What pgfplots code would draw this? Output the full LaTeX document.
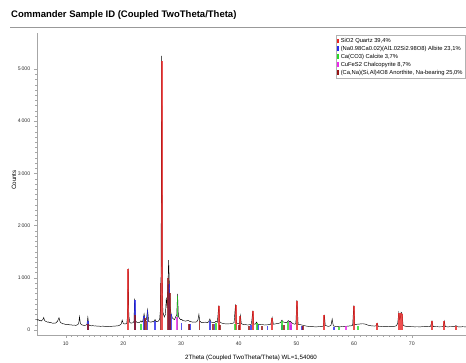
\documentclass[border=0pt]{standalone}
\usepackage{fontspec}
\setmainfont{Liberation Sans}
\setsansfont{Liberation Sans}
\usepackage{pgfplots}
\pgfplotsset{compat=1.18}
\definecolor{qz}{RGB}{232,36,36}
\definecolor{ab}{RGB}{40,40,235}
\definecolor{cc}{RGB}{40,215,40}
\definecolor{cp}{RGB}{235,40,235}
\definecolor{an}{RGB}{150,20,20}
\begin{document}
\begin{tikzpicture}[x=1pt,y=1pt]
\useasboundingbox (0,0) rectangle (466,362);
\node[anchor=base west, inner sep=0pt, font=\bfseries\fontsize{9.5}{12}\selectfont] at (11,344) {Commander Sample ID (Coupled TwoTheta/Theta)};
\draw[gray!80, line width=0.6pt] (10,334.5) -- (466,334.5);
\node[rotate=90, font=\fontsize{6.2}{7}\selectfont] at (14,182) {Counts};
\node[anchor=base, inner sep=0pt, font=\fontsize{6.2}{7}\selectfont] at (251,2.5) {2Theta (Coupled TwoTheta/Theta) WL=1,54060};
\begin{axis}[
  at={(36.8pt,27pt)}, anchor=south west, scale only axis,
  width=429.2pt, height=302pt,
  xmin=5, xmax=79.4, ymin=-96, ymax=5690,
  axis x line*=bottom, axis y line*=left,
  axis line style={gray!70,-}, tick style={gray!70},
  tick align=outside, xtick pos=bottom, ytick pos=left,
  xtick={10,20,...,70}, minor x tick num=9,
  ytick={0,1000,...,5000}, minor y tick num=9,
  major tick length=3pt, minor tick length=1.5pt,
  ticklabel style={font=\fontsize{5.2}{6}\selectfont, text=black!80},
  /pgf/number format/assume math mode=true,
  /pgf/number format/1000 sep={\,},
  clip=false,
  legend style={at={(0.697,0.993)}, anchor=north west, draw=gray!60,
    font=\fontsize{5.8}{6.4}\selectfont, inner sep=1pt, row sep=-1.8pt,
    cells={anchor=west}},
  legend image code/.code={\draw[#1, opacity=1, line width=1.6pt] (0pt,-2.2pt) -- (0pt,2.6pt);},
]
% measured pattern (drawn first)
\addplot[black, line width=0.45pt, forget plot] table {
5.0 205
5.15 190
5.3 196
5.45 178
5.6 182
5.75 172
5.9 185
6.05 200
6.2 240
6.35 180
6.5 168
6.7 160
6.85 150
7.0 154
7.2 142
7.4 146
7.6 135
7.8 128
8.0 134
8.2 130
8.4 146
8.6 170
8.75 210
8.85 235
9.0 170
9.15 140
9.3 132
9.5 118
9.7 120
9.85 110
10.0 108
10.25 102
10.5 106
10.75 96
11.0 98
11.25 90
11.5 94
11.75 88
12.0 98
12.2 115
12.3 150
12.4 255
12.55 130
12.7 104
12.9 95
13.1 90
13.3 88
13.5 92
13.7 110
13.85 245
14.0 100
14.2 86
14.5 80
14.75 84
15.0 76
15.25 78
15.5 72
15.75 75
16.0 70
16.25 72
16.5 74
16.75 67
17.0 68
17.25 71
17.5 66
17.75 69
18.0 70
18.25 74
18.5 72
18.75 78
19.0 78
19.25 86
19.5 100
19.65 120
19.8 190
20.0 120
20.2 118
20.4 115
20.6 130
20.75 300
20.85 1180
20.95 280
21.1 150
21.3 130
21.5 136
21.7 140
21.85 170
21.95 600
22.1 180
22.3 150
22.6 140
22.85 148
23.05 175
23.2 150
23.35 160
23.6 310
23.8 170
24.0 200
24.2 390
24.4 160
24.6 156
24.8 150
25.0 162
25.2 155
25.35 170
25.5 200
25.7 160
25.9 165
26.1 170
26.3 210
26.45 420
26.55 1200
26.64 5250
26.75 900
26.85 350
27.1 250
27.3 300
27.45 620
27.6 420
27.75 900
27.85 1340
27.95 1000
28.1 420
28.3 300
28.5 230
28.7 210
28.9 200
29.1 260
29.25 280
29.4 690
29.55 260
29.7 230
29.9 200
30.1 205
30.3 180
30.55 176
30.8 170
31.05 178
31.3 180
31.45 170
31.6 160
31.8 158
32.0 150
32.25 154
32.5 150
32.75 160
32.95 200
33.1 300
33.25 170
33.45 150
33.7 140
33.95 146
34.2 150
34.4 144
34.6 140
34.8 160
35.0 210
35.2 150
35.45 146
35.7 140
35.9 150
36.1 170
36.3 150
36.55 470
36.7 160
36.9 140
37.1 130
37.3 126
37.5 120
37.75 118
38.0 115
38.25 118
38.5 120
38.75 125
39.0 130
39.2 140
39.45 490
39.6 140
39.8 126
40.0 120
40.15 130
40.3 280
40.45 120
40.7 110
41.0 100
41.25 104
41.5 95
41.75 98
42.0 105
42.2 110
42.45 370
42.6 110
42.85 112
43.1 150
43.3 110
43.6 104
44.0 100
44.25 102
44.5 95
44.75 98
45.0 100
45.3 104
45.55 110
45.8 240
46.0 110
46.25 115
46.5 120
46.75 124
47.0 130
47.25 140
47.5 190
47.65 160
47.8 150
48.0 146
48.2 140
48.4 150
48.6 180
48.75 160
48.9 170
49.1 150
49.3 130
49.5 118
49.7 110
49.9 120
50.1 570
50.3 110
50.55 104
50.8 100
51.05 92
51.3 85
51.6 78
52.0 70
52.25 68
52.5 65
52.75 66
53.0 62
53.25 61
53.5 60
53.75 63
54.0 62
54.25 66
54.5 70
54.7 80
54.85 290
55.0 90
55.25 78
55.5 70
55.75 74
56.0 90
56.2 210
56.4 80
56.7 70
57.0 65
57.25 66
57.5 60
57.75 63
58.0 62
58.25 66
58.5 70
58.75 72
59.0 75
59.25 78
59.5 80
59.75 90
59.95 470
60.1 100
60.3 105
60.5 110
60.75 112
61.0 115
61.25 118
61.5 120
61.75 116
62.0 110
62.25 100
62.5 90
62.75 84
63.0 80
63.25 78
63.5 75
63.8 80
64.0 130
64.2 70
64.5 72
64.8 68
65.1 66
65.5 65
65.75 64
66.0 62
66.25 64
66.5 65
66.75 68
67.0 70
67.3 80
67.55 120
67.75 330
67.9 200
68.05 240
68.15 340
68.3 320
68.5 90
68.75 76
69.0 70
69.25 68
69.5 65
69.75 64
70.0 62
70.25 63
70.5 60
70.75 62
71.0 62
71.25 61
71.5 60
71.75 63
72.0 62
72.25 64
72.5 65
72.75 63
73.0 62
73.25 70
73.5 170
73.7 65
73.95 64
74.2 62
74.5 63
74.8 60
75.0 62
75.2 62
75.45 68
75.65 170
75.8 65
76.05 62
76.3 60
76.55 63
76.8 62
77.05 64
77.3 65
77.5 70
77.65 85
77.9 62
78.2 61
78.5 60
78.75 63
79.0 62
79.4 60
};
% phase sticks (on top)
\addplot[ycomb, color=qz, line width=2pt, opacity=0.8] coordinates {
(20.86,1170) (26.64,5150) (36.54,460) (39.46,480) (40.29,270) (42.45,360)
(45.79,230) (50.14,560) (54.87,285) (59.96,460) (64.04,125) (67.74,320)
(68.14,330) (68.32,310) (73.47,165) (75.66,165) (77.67,80)};
\addlegendentry{SiO2 Quartz 39,4\%}
\addplot[ycomb, color=ab, line width=1.8pt, opacity=0.8] coordinates {
(13.87,180) (22.04,580) (23.6,260) (24.2,380) (25.5,170) (27.95,880)
(28.2,300) (30.1,130) (31.6,110) (35.0,180) (35.8,110) (42.1,90) (43.3,90)
(45.0,80) (47.5,100) (49.0,90) (51.0,70) (56.5,60)};
\addlegendentry{(Na0.98Ca0.02)(Al1.02Si2.98O8) Albite 23,1\%}
\addplot[ycomb, color=cc, line width=1.8pt, opacity=0.8] coordinates {
(23.05,120) (29.4,650) (36.0,130) (39.4,120) (43.15,130) (47.5,170)
(48.5,150) (57.4,60) (60.7,70)};
\addlegendentry{Ca(CO3) Calcite 3,7\%}
\addplot[ycomb, color=cp, line width=1.8pt, opacity=0.8] coordinates {
(29.3,250) (48.9,150) (49.1,130) (58.6,70)};
\addlegendentry{CuFeS2 Chalcopyrite 8,7\%}
\addplot[ycomb, color=an, line width=1.8pt, opacity=0.8] coordinates {
(13.9,110) (22.0,280) (23.7,230) (24.0,180) (26.45,900) (27.8,1000)
(28.05,700) (31.4,120) (33.2,180) (35.6,110) (36.8,100) (40.0,90)
(41.8,80) (44.0,80) (47.8,90) (51.1,70)};
\addlegendentry{(Ca,Na)(Si,Al)4O8 Anorthite, Na-bearing 25,0\%}
\end{axis}
\end{tikzpicture}
\end{document}
